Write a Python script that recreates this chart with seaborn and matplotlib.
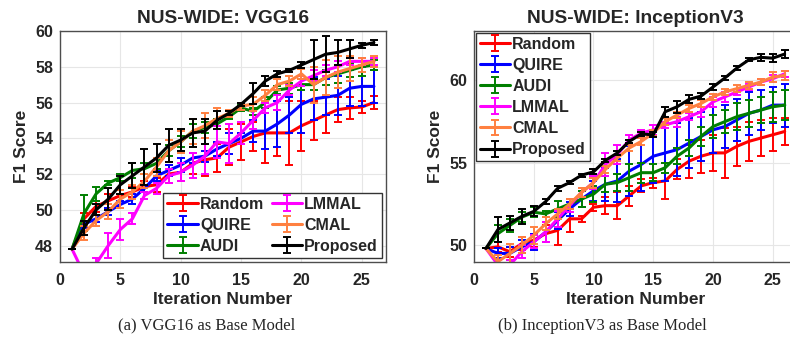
import seaborn as sns
import matplotlib.pyplot as plt
from matplotlib.legend_handler import HandlerTuple

iters = list(range(1, 27))
methods = ["Random", "QUIRE", "AUDI", "LMMAL", "CMAL", "Proposed"]
colors = ["#ff0000", "#0000ff", "#007f00", "#ff00ff", "#ff8040", "#000000"]

# NUS-WIDE: VGG16
vgg_random = [47.8, 49.5, 50.2, 50.5, 50.8, 51.0, 51.3, 51.4, 52.0, 52.1, 52.6, 52.8, 52.9, 53.5, 53.8, 54.1, 54.3, 54.3, 54.3, 54.7, 55.0, 55.3, 55.6, 55.7, 55.75, 56.0]
vgg_random_err = [0, 0.3, 0.3, 0.4, 0.3, 0.3, 0.3, 0.4, 0.5, 0.5, 0.6, 0.9, 0.8, 1.0, 1.0, 0.8, 1.7, 1.3, 1.8, 1.4, 1.1, 1.0, 0.7, 0.6, 0.35, 0.35]
vgg_quire = [47.8, 49.2, 49.5, 49.9, 50.3, 50.6, 51.2, 51.9, 52.2, 52.5, 52.9, 53.0, 53.4, 53.7, 54.0, 54.4, 54.4, 54.8, 55.3, 55.9, 56.2, 56.3, 56.4, 56.8, 56.9, 56.9]
vgg_quire_err = [0, 0.2, 0.2, 0.2, 0.2, 0.3, 0.2, 0.3, 0.3, 0.4, 0.3, 0.3, 0.4, 0.6, 0.3, 0.6, 1.0, 1.3, 1.0, 1.6, 1.2, 1.0, 1.1, 1.0, 1.1, 0.9]
vgg_audi = [47.8, 49.8, 50.9, 51.5, 51.8, 52.2, 52.3, 52.6, 53.3, 53.8, 54.4, 54.6, 54.8, 55.2, 55.7, 55.5, 56.0, 56.7, 56.8, 57.0, 57.0, 57.4, 57.6, 57.8, 58.0, 58.1]
vgg_audi_err = [0, 1.0, 0.4, 0.1, 0.2, 0.4, 0.3, 0.3, 0.3, 0.3, 0.4, 0.3, 0.3, 0.1, 0.2, 0.2, 0.3, 0.2, 0.3, 0.3, 0.3, 0.4, 0.5, 0.4, 0.5, 0.3]
vgg_lmmal = [47.8, 46.4, 47.0, 48.0, 48.9, 49.5, 50.8, 51.2, 51.9, 52.1, 52.5, 53.0, 53.8, 53.7, 54.3, 55.0, 55.7, 56.0, 56.7, 57.2, 57.5, 57.8, 58.0, 58.3, 58.3, 58.3]
vgg_lmmal_err = [0, 0.3, 0.3, 0.7, 0.6, 0.3, 0.2, 0.3, 0.4, 0.5, 0.7, 1.0, 0.9, 1.1, 0.6, 0.5, 0.3, 0.4, 0.3, 0.3, 0.3, 0.3, 0.3, 0.2, 0.2, 0.2]
vgg_cmal = [47.8, 48.7, 49.4, 49.9, 50.6, 51.0, 51.6, 52.4, 53.3, 53.8, 54.4, 54.7, 55.1, 55.4, 55.8, 55.9, 56.4, 57.0, 57.2, 57.6, 57.0, 57.4, 57.7, 57.9, 58.1, 58.3]
vgg_cmal_err = [0, 0.4, 0.3, 0.4, 0.5, 0.4, 0.4, 0.5, 0.6, 0.6, 0.7, 0.7, 0.6, 0.2, 0.2, 0.4, 0.3, 0.3, 0.3, 0.3, 1.0, 1.0, 0.9, 0.7, 0.4, 0.3]
vgg_proposed = [47.8, 49.0, 50.0, 50.6, 51.4, 51.9, 52.4, 52.9, 53.6, 53.9, 54.3, 54.4, 55.0, 55.4, 55.9, 56.5, 57.2, 57.6, 57.8, 58.1, 58.4, 58.7, 58.8, 59.0, 59.2, 59.35]
vgg_proposed_err = [0, 0.4, 0.3, 0.6, 0.5, 0.7, 1.0, 0.8, 0.9, 0.6, 0.8, 0.7, 0.5, 0.1, 0.1, 0.6, 0.3, 0.15, 0.1, 0.15, 1.1, 1.0, 0.7, 0.5, 0.15, 0.15]

# NUS-WIDE: InceptionV3
inc_random = [49.8, 49.9, 49.6, 50.1, 50.3, 50.7, 50.9, 51.6, 51.6, 52.3, 52.4, 52.4, 53.0, 53.6, 53.8, 53.9, 54.6, 55.1, 55.4, 55.6, 55.6, 56.0, 56.3, 56.5, 56.7, 56.9]
inc_random_err = [0, 0.3, 0.3, 0.4, 0.4, 0.5, 0.9, 0.8, 0.2, 0.2, 0.5, 0.8, 0.6, 0.4, 0.3, 1.1, 0.6, 1.0, 1.0, 1.1, 1.5, 1.2, 1.2, 1.1, 1.0, 0.8]
inc_quire = [49.8, 49.5, 49.5, 49.9, 50.2, 50.8, 51.5, 52.2, 52.8, 53.3, 53.7, 53.9, 54.5, 54.9, 55.4, 55.6, 55.8, 56.2, 56.6, 57.0, 57.2, 57.6, 58.0, 58.2, 58.5, 58.5]
inc_quire_err = [0, 0.3, 0.4, 0.4, 0.5, 0.6, 0.5, 0.4, 0.5, 0.6, 1.0, 1.3, 1.5, 1.6, 1.6, 1.7, 1.6, 1.5, 1.5, 1.4, 1.3, 1.3, 1.3, 1.2, 1.1, 1.3]
inc_audi = [49.8, 50.7, 51.2, 51.7, 52.0, 51.9, 52.2, 52.5, 52.8, 53.1, 53.7, 53.8, 54.1, 54.4, 54.4, 54.7, 55.4, 55.9, 56.6, 57.2, 57.5, 57.8, 58.0, 58.2, 58.4, 58.5]
inc_audi_err = [0, 0.5, 0.4, 0.3, 0.3, 0.2, 0.5, 0.3, 0.5, 0.5, 0.5, 0.5, 0.8, 0.6, 0.5, 0.3, 0.5, 0.5, 0.6, 0.7, 0.7, 0.8, 0.8, 0.8, 0.9, 0.9]
inc_lmmal = [49.8, 48.8, 48.8, 49.6, 50.2, 50.8, 51.6, 52.4, 53.2, 53.8, 54.9, 55.5, 56.4, 56.8, 57.0, 57.3, 57.5, 57.8, 58.1, 58.7, 59.0, 59.3, 59.6, 59.9, 60.1, 60.4]
inc_lmmal_err = [0, 0.3, 0.3, 0.4, 0.4, 0.6, 0.5, 0.4, 0.3, 0.4, 0.7, 0.6, 0.3, 0.2, 0.3, 0.2, 0.3, 0.2, 0.3, 0.3, 0.3, 0.2, 0.2, 0.2, 0.2, 0.2]
inc_cmal = [49.8, 49.0, 49.5, 50.0, 50.6, 51.3, 51.9, 52.5, 53.2, 53.8, 54.6, 55.3, 55.9, 56.3, 56.8, 57.5, 57.9, 58.3, 58.6, 59.0, 59.3, 59.5, 59.7, 59.9, 60.2, 60.3]
inc_cmal_err = [0, 0.4, 0.6, 0.5, 0.5, 0.4, 0.3, 0.3, 0.3, 0.3, 0.2, 0.2, 0.2, 0.2, 0.2, 0.2, 0.2, 0.2, 0.2, 0.2, 0.2, 0.2, 0.2, 0.2, 0.3, 0.3]
inc_proposed = [49.8, 50.95, 51.35, 51.75, 52.05, 52.65, 53.45, 53.8, 54.25, 54.45, 55.15, 55.6, 56.3, 56.75, 56.7, 58.1, 58.4, 58.85, 59.05, 59.6, 60.15, 60.75, 61.25, 61.4, 61.35, 61.6]
inc_proposed_err = [0, 0.75, 0.45, 0.45, 0.3, 0.15, 0.15, 0.1, 0.1, 0.15, 0.1, 0.1, 0.1, 0.1, 0.15, 0.3, 0.35, 0.25, 0.2, 0.2, 0.1, 0.1, 0.1, 0.2, 0.25, 0.25]

vgg = [(vgg_random, vgg_random_err), (vgg_quire, vgg_quire_err), (vgg_audi, vgg_audi_err),
       (vgg_lmmal, vgg_lmmal_err), (vgg_cmal, vgg_cmal_err), (vgg_proposed, vgg_proposed_err)]
inc = [(inc_random, inc_random_err), (inc_quire, inc_quire_err), (inc_audi, inc_audi_err),
       (inc_lmmal, inc_lmmal_err), (inc_cmal, inc_cmal_err), (inc_proposed, inc_proposed_err)]

sns.set_style("whitegrid", {"grid.color": "#e6e6e6", "axes.edgecolor": "#4d4d4d"})
plt.rcParams['font.family'] = ['Liberation Sans', 'DejaVu Sans']
plt.rcParams['font.weight'] = 'bold'

fig = plt.figure(figsize=(7.9, 3.56), dpi=100)
ax1 = fig.add_axes([0.0759, 0.265, 0.4127, 0.648])
ax2 = fig.add_axes([0.600, 0.265, 0.4084, 0.648])

leg_kw = dict(handler_map={tuple: HandlerTuple(ndivide=1)},
              prop={'weight': 'bold', 'size': 11.5},
              frameon=True, fancybox=False, edgecolor='#333333', framealpha=1,
              handlelength=1.9, handleheight=0.6, handletextpad=0.15,
              labelspacing=0.38, borderpad=0.25)


def draw(ax, series):
    handles = []
    for name, c, (vals, err) in zip(methods, colors, series):
        ln = sns.lineplot(x=iters, y=vals, color=c, lw=2.2, ax=ax, legend=False).lines[-1]
        eb = ax.errorbar(iters, vals, yerr=err, fmt='none', ecolor=c,
                         elinewidth=1.4, capsize=2.8, capthick=1.4)
        handles.append((ln, eb))
    for s in ax.spines.values():
        s.set_linewidth(1.0)
    ax.tick_params(axis='both', labelsize=11.5, length=3, direction='in')
    ax.tick_params(axis='x', pad=8)
    ax.tick_params(axis='y', pad=5)
    for lab in ax.get_xticklabels() + ax.get_yticklabels():
        lab.set_fontweight('bold')
    ax.set_xlabel("Iteration Number", fontsize=12.5, fontweight='bold', labelpad=3)
    ax.set_ylabel("F1 Score", fontsize=12.5, fontweight='bold', labelpad=4)
    return handles


h1 = draw(ax1, vgg)
ax1.set_xlim(0, 27)
ax1.set_ylim(47.1, 60)
ax1.set_xticks([0, 5, 10, 15, 20, 25])
ax1.set_yticks([48, 50, 52, 54, 56, 58, 60])
ax1.set_title("NUS-WIDE: VGG16", fontsize=13.8, fontweight='bold', pad=6)
ax1.legend(h1, methods, ncol=2, loc='lower right', columnspacing=0.45,
           borderaxespad=0.25, **leg_kw)

h2 = draw(ax2, inc)
ax2.set_xlim(0, 27)
ax2.set_ylim(49, 63)
ax2.set_xticks([0, 5, 10, 15, 20, 25])
ax2.set_yticks([50, 55, 60])
ax2.set_title("NUS-WIDE: InceptionV3", fontsize=13.8, fontweight='bold', pad=6)
ax2.legend(h2, methods, ncol=1, loc='upper left', borderaxespad=0.1, **leg_kw)

fig.text(0.262, 0.085, "(a) VGG16 as Base Model", ha='center', va='center',
         family='Liberation Serif', fontweight='normal', fontsize=12)
fig.text(0.762, 0.085, "(b) InceptionV3 as Base Model", ha='center', va='center',
         family='Liberation Serif', fontweight='normal', fontsize=12)

fig.savefig("out.png", dpi=100)
